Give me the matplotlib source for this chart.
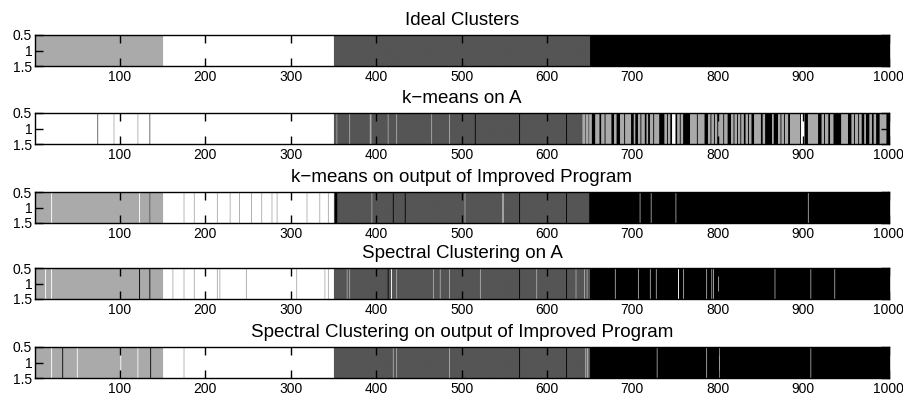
import numpy as np
import matplotlib
matplotlib.use("Agg")
import matplotlib.pyplot as plt
from matplotlib.colors import ListedColormap

plt.rcParams['font.family'] = ['Liberation Sans', 'DejaVu Sans']

N = 1000
titles = ["Ideal Clusters",
          "k\u2212means on A",
          "k\u2212means on output of Improved Program",
          "Spectral Clustering on A",
          "Spectral Clustering on output of Improved Program"]

# cluster ids: 1 = light gray, 2 = white, 3 = dark gray, 4 = black
ideal_runs = [(1, 150, 1), (151, 350, 2), (351, 650, 3), (651, 1000, 4)]

kmeans_A_runs = [
    (1, 350, 2),
    (74, 74, 3), (93, 93, 1), (121, 121, 1), (135, 135, 3),
    (354, 354, 1), (369, 369, 1), (393, 394, 1), (414, 414, 1), (424, 424, 1),
    (465, 465, 1), (486, 486, 1), (516, 516, 4), (568, 568, 4), (623, 623, 4),
    (642, 644, 1), (646, 648, 1),
    (650, 652, 1), (657, 661, 1), (664, 667, 1), (669, 675, 1), (679, 681, 1),
    (686, 690, 1), (692, 698, 1), (702, 703, 1), (707, 709, 1), (711, 714, 1),
    (717, 718, 1), (721, 724, 1), (726, 731, 1), (738, 740, 1), (742, 744, 1),
    (747, 750, 2), (753, 755, 1), (757, 759, 1), (768, 775, 1), (777, 784, 1),
    (789, 791, 1), (793, 795, 1), (797, 799, 1), (801, 806, 1), (808, 811, 1),
    (816, 818, 1), (820, 822, 1), (824, 826, 1), (828, 830, 1), (833, 835, 1),
    (837, 839, 1), (843, 850, 1), (853, 855, 1), (864, 865, 1), (871, 873, 1),
    (875, 877, 1), (879, 882, 1), (885, 896, 1), (898, 901, 2), (906, 917, 1),
    (922, 924, 1), (926, 929, 1), (932, 935, 1), (945, 952, 1), (957, 959, 1),
    (961, 964, 1), (966, 968, 1), (972, 973, 1), (978, 980, 1), (983, 985, 1),
    (990, 997, 1),
]

kmeans_imp_runs = [
    (20, 20, 2), (123, 123, 2), (135, 135, 3),
    (175, 175, 1), (187, 187, 1), (214, 214, 1), (229, 229, 1), (240, 240, 1),
    (254, 254, 1), (266, 266, 1), (278, 278, 1), (284, 284, 1), (319, 319, 1),
    (334, 334, 1), (344, 344, 1),
    (352, 354, 4), (395, 395, 1), (420, 420, 4), (434, 434, 4),
    (504, 504, 1), (548, 549, 1), (568, 568, 4), (623, 623, 4), (650, 650, 4),
    (709, 709, 1), (722, 722, 1), (751, 751, 1), (906, 906, 1),
]

spectral_A_runs = [
    (13, 13, 2), (20, 20, 2), (123, 123, 4), (135, 135, 4),
    (162, 162, 1), (175, 175, 1), (187, 187, 1), (214, 214, 1), (217, 217, 1),
    (248, 248, 1), (307, 307, 1), (340, 340, 1), (344, 344, 1),
    (366, 366, 1), (369, 369, 1), (414, 414, 4), (418, 418, 2), (424, 424, 1),
    (467, 467, 1), (475, 475, 1), (486, 486, 1), (522, 522, 1), (568, 568, 4),
    (588, 588, 1), (623, 623, 4), (634, 634, 1), (644, 644, 1), (647, 647, 1),
    (680, 680, 1), (707, 707, 1), (721, 721, 1), (728, 728, 1), (754, 754, 2),
    (760, 760, 1), (787, 787, 1), (793, 793, 1), (795, 795, 1), (801, 801, 1),
    (867, 867, 1), (909, 909, 1), (937, 937, 1),
]

spectral_imp_runs = [
    (20, 20, 2), (33, 33, 4), (50, 50, 2), (101, 101, 2), (121, 121, 2), (136, 136, 4),
    (175, 175, 1),
    (420, 420, 1), (424, 424, 1), (486, 486, 1), (568, 568, 4), (623, 623, 4),
    (645, 645, 1), (647, 648, 1),
    (729, 729, 1), (787, 787, 1), (802, 802, 1), (909, 909, 1),
]

shades = ['#aaaaaa', '#ffffff', '#555555', '#000000']
xticks = [100, 200, 300, 400, 500, 600, 700, 800, 900, 1000]
yticks = [0.5, 1.0, 1.5]
ytick_labels = ['0.5', '1', '1.5']


def build(runs, base=None):
    lab = np.zeros(N, dtype=int) if base is None else base.copy()
    for s, e, c in runs:
        lab[s - 1:e] = c
    return lab


ideal = build(ideal_runs)
rows = [ideal,
        build(kmeans_A_runs, ideal),
        build(kmeans_imp_runs, ideal),
        build(spectral_A_runs, ideal),
        build(spectral_imp_runs, ideal)]

cmap = ListedColormap(shades)

W, H = 904, 396
fig = plt.figure(figsize=(W / 100, H / 100), dpi=100)
tops = [35, 113, 192, 268, 347]
ax_h = 31
left_px, width_px = 35, 854

for lab, title, top in zip(rows, titles, tops):
    ax = fig.add_axes([left_px / W, 1 - (top + ax_h) / H, width_px / W, ax_h / H])
    ax.imshow(lab[np.newaxis, :], cmap=cmap, vmin=0.5, vmax=4.5, aspect='auto',
              extent=(0.5, N + 0.5, 1.5, 0.5), interpolation='antialiased',
              zorder=0)
    ax.set_xlim(0.5, N + 0.5)
    ax.set_ylim(1.5, 0.5)
    ax.set_xticks(xticks)
    ax.set_yticks(yticks)
    ax.set_yticklabels(ytick_labels)
    ax.tick_params(direction='in', length=5.5, width=1.0, labelsize=10,
                   top=True, right=True, pad=3, color='black')
    ax.tick_params(axis='y', pad=2)
    for sp in ax.spines.values():
        sp.set_linewidth(1.0)
    ax.set_title(title, fontsize=13.5, pad=7)

fig.savefig('out.png', dpi=100)
